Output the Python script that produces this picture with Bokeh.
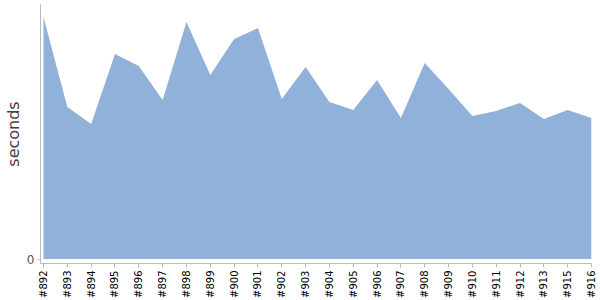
import math
from bokeh.plotting import figure
from bokeh.models import Range1d, FixedTicker, ColumnDataSource
from bokeh.embed import file_html
from bokeh.resources import INLINE

builds = ["#892", "#893", "#894", "#895", "#896", "#897", "#898", "#899", "#900", "#901",
          "#902", "#903", "#904", "#905", "#906", "#907", "#908", "#909", "#910", "#911",
          "#912", "#913", "#915", "#916"]
seconds = [242, 152, 135, 205, 193, 159, 237, 184, 220, 231,
           160, 192, 157, 149, 179, 141, 196, 170, 143, 148,
           156, 140, 149, 141]

xs = list(range(len(builds)))
src = ColumnDataSource(dict(x=xs, y=seconds, zero=[0] * len(xs)))

p = figure(width=600, height=300, output_backend="svg", toolbar_location=None,
           x_range=Range1d(-0.126, len(builds) - 1), y_range=Range1d(-4.5, 254.5))
p.min_border_left = 40
p.min_border_right = 9
p.min_border_top = 4
p.min_border_bottom = 37
p.outline_line_color = None
p.background_fill_color = "white"
p.border_fill_color = "white"

p.varea(x="x", y1="zero", y2="y", source=src, fill_color="#8fb1da", fill_alpha=1.0)

p.xgrid.visible = False
p.ygrid.visible = False

xa = p.xaxis[0]
xa.ticker = FixedTicker(ticks=xs)
xa.major_label_overrides = {i: b for i, b in enumerate(builds)}
xa.major_label_orientation = math.pi / 2
xa.major_label_text_font = "DejaVu Sans"
xa.major_label_text_font_size = "10px"
xa.major_label_text_color = "black"
xa.axis_line_color = "#bbbbbb"
xa.major_tick_line_color = "#bbbbbb"
xa.major_tick_out = 4
xa.major_tick_in = 0
xa.minor_tick_line_color = None
xa.major_label_standoff = 3

ya = p.yaxis[0]
ya.ticker = FixedTicker(ticks=[0])
ya.axis_label = "seconds"
ya.axis_label_text_font = "DejaVu Sans"
ya.axis_label_text_font_size = "16px"
ya.axis_label_text_font_style = "normal"
ya.axis_label_text_color = "#444444"
ya.axis_label_standoff = 1
ya.major_label_text_font = "DejaVu Sans"
ya.major_label_text_font_size = "12px"
ya.major_label_text_color = "#555555"
ya.axis_line_color = "#bbbbbb"
ya.major_tick_line_color = "#bbbbbb"
ya.major_tick_out = 3
ya.major_tick_in = 0
ya.minor_tick_line_color = None
ya.major_label_standoff = 3

open("out.html", "w").write(file_html(p, INLINE))
